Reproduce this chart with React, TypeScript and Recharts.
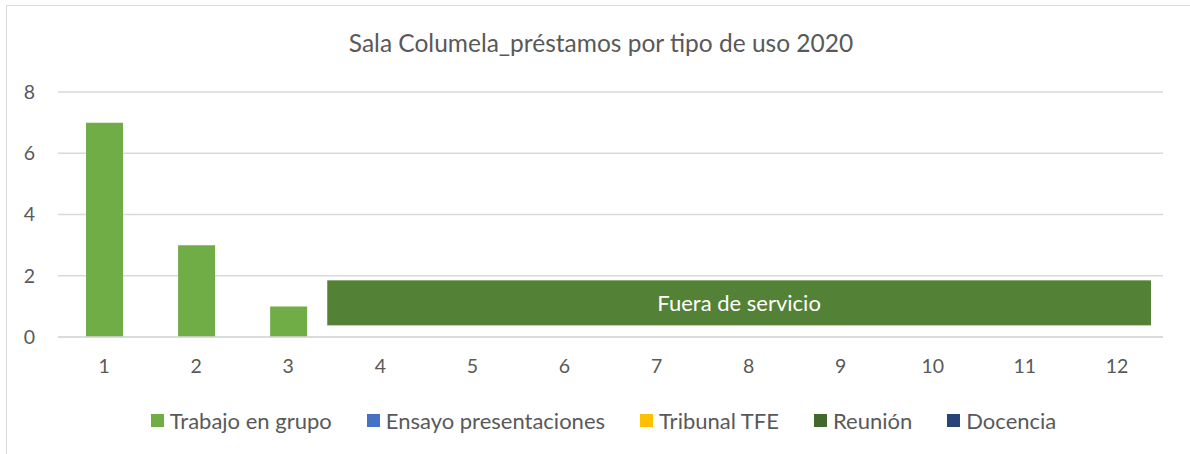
import React from 'react';
import { BarChart, Bar, XAxis, YAxis, CartesianGrid, Legend, ReferenceArea } from 'recharts';

const meses = ['1', '2', '3', '4', '5', '6', '7', '8', '9', '10', '11', '12'];
const trabajoGrupo = [7, 3, 1, 0, 0, 0, 0, 0, 0, 0, 0, 0];
const ensayo = [0, 0, 0, 0, 0, 0, 0, 0, 0, 0, 0, 0];
const tribunal = [0, 0, 0, 0, 0, 0, 0, 0, 0, 0, 0, 0];
const reunion = [0, 0, 0, 0, 0, 0, 0, 0, 0, 0, 0, 0];
const docencia = [0, 0, 0, 0, 0, 0, 0, 0, 0, 0, 0, 0];
const yTicks = [0, 2, 4, 6, 8];

// rango "fuera de servicio" (meses 4-12)
const fueraDesde = '4';
const fueraHasta = '12';
const fueraBajo = 0.38;
const fueraAlto = 1.85;

const series = [
  { key: 'trabajo', name: 'Trabajo en grupo', color: '#70AD47' },
  { key: 'ensayo', name: 'Ensayo presentaciones', color: '#4472C4' },
  { key: 'tribunal', name: 'Tribunal TFE', color: '#FFC000' },
  { key: 'reunion', name: 'Reunión', color: '#43682B' },
  { key: 'docencia', name: 'Docencia', color: '#264478' },
];

const data = meses.map((m, i) => ({
  mes: m,
  trabajo: trabajoGrupo[i],
  ensayo: ensayo[i],
  tribunal: tribunal[i],
  reunion: reunion[i],
  docencia: docencia[i],
}));

const FONT = 'Lato, "Open Sans", sans-serif';
const TEXT = '#595959';

const LegendContent = () => (
  <div
    style={{
      display: 'flex',
      justifyContent: 'center',
      gap: 35,
      paddingTop: 20,
      paddingLeft: 44,
      fontFamily: FONT,
      fontSize: 22,
      color: TEXT,
    }}
  >
    {series.map((s) => (
      <div key={s.key} style={{ display: 'flex', alignItems: 'center' }}>
        <span style={{ width: 13, height: 13, background: s.color, display: 'inline-block', marginRight: 6 }} />
        <span>{s.name}</span>
      </div>
    ))}
  </div>
);

// el cuadro de Excel queda algo desplazado respecto a las bandas
const FueraShape = (p: any) => {
  const x = p.x - 7;
  const w = p.width - 5;
  return (
    <g>
      <rect x={x} y={p.y} width={w} height={p.height} fill="#538135" />
      <text
        x={x + w / 2}
        y={p.y + p.height / 2}
        textAnchor="middle"
        dominantBaseline="central"
        fill="#ffffff"
        fontSize={22}
        fontFamily={FONT}
      >
        Fuera de servicio
      </text>
    </g>
  );
};

export default function App() {
  return (
    <div style={{ position: 'absolute', left: 0, top: 0, width: 1190, height: 454, background: '#fff', overflow: 'hidden' }}>
      <div
        style={{
          position: 'absolute',
          left: 6,
          top: 5,
          width: 1300,
          height: 600,
          border: '1.5px solid #d9d9d9',
        }}
      />
      <div
        style={{
          position: 'absolute',
          top: 28,
          left: 0,
          width: 1202,
          textAlign: 'center',
          fontFamily: FONT,
          fontSize: 24.5,
          color: TEXT,
        }}
      >
        Sala Columela_préstamos por tipo de uso 2020
      </div>
      <BarChart
        width={1190}
        height={454}
        data={data}
        margin={{ top: 92, right: 27, left: 0, bottom: 20 }}
        style={{ position: 'absolute', left: 0, top: 0 }}
      >
        <CartesianGrid vertical={false} stroke="#d9d9d9" strokeWidth={1.3} />
        <XAxis
          dataKey="mes"
          axisLine={{ stroke: '#d9d9d9', strokeWidth: 1.3 }}
          tickLine={false}
          tickSize={0}
          tickMargin={22}
          height={50}
          tick={{ fill: TEXT, fontSize: 19.5, fontFamily: FONT }}
        />
        <YAxis
          domain={[0, 8]}
          ticks={yTicks}
          axisLine={false}
          tickLine={false}
          tickSize={0}
          tickMargin={23}
          width={58}
          tick={{ fill: TEXT, fontSize: 19.5, fontFamily: FONT }}
        />
        <Legend verticalAlign="bottom" height={47} content={<LegendContent />} />
        {series.map((s) => (
          <Bar
            key={s.key}
            dataKey={s.key}
            name={s.name}
            stackId="a"
            fill={s.color}
            barSize={37}
            isAnimationActive={false}
          />
        ))}
        <ReferenceArea
          x1={fueraDesde}
          x2={fueraHasta}
          y1={fueraBajo}
          y2={fueraAlto}
          fillOpacity={1}
          shape={FueraShape}
        />
      </BarChart>
    </div>
  );
}
